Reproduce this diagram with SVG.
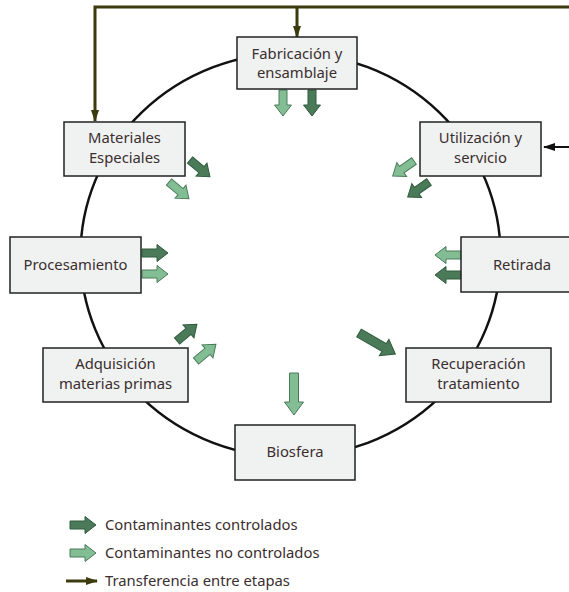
<svg xmlns="http://www.w3.org/2000/svg" width="569" height="592" viewBox="0 0 569 592">
<style>
.box{fill:#f0f2f2;stroke:#222;stroke-width:1.5}
.t{font-family:"Noto Sans","DejaVu Sans",sans-serif;font-size:14.8px;fill:#3a2e2e;text-anchor:middle}
.lg{font-family:"Noto Sans","DejaVu Sans",sans-serif;font-size:14.8px;fill:#3a2e2e}
.dk{fill:#4a7a58;stroke:#2f5a3c;stroke-width:1}
.lt{fill:#82bd93;stroke:#4a7a58;stroke-width:1}
.tr{fill:none;stroke:#3b3b0e;stroke-width:3}
</style>
<defs>
<path id="a26" d="M0,-4 H15 V-8.5 L26,0 L15,8.5 V4 H0 Z"/>
<path id="a42" d="M0,-4.5 H29 V-9.5 L42,0 L29,9.5 V4.5 H0 Z"/>
<marker id="h" viewBox="0 0 12 8" refX="11" refY="4" markerWidth="12" markerHeight="8" markerUnits="userSpaceOnUse" orient="auto">
<path d="M0,0 L12,4 L0,8 Z" fill="#3b3b0e"/>
</marker>
<marker id="hb" viewBox="0 0 12 8" refX="11" refY="4" markerWidth="12" markerHeight="8" markerUnits="userSpaceOnUse" orient="auto">
<path d="M0,0 L12,4 L0,8 Z" fill="#111"/>
</marker>
</defs>
<ellipse cx="290.5" cy="255" rx="210" ry="202" fill="none" stroke="#111" stroke-width="2.5"/>
<g id="connectors">
<path class="tr" d="M569,7 H95 V121" marker-end="url(#h)"/>
<path class="tr" d="M297,7 V37" marker-end="url(#h)"/>
<path d="M569,147 H544" stroke="#111" stroke-width="2" fill="none" marker-end="url(#hb)"/>
<use href="#a26" class="lt" transform="translate(283,90) rotate(90)"/>
<use href="#a26" class="dk" transform="translate(312,90) rotate(90)"/>
<use href="#a26" class="dk" transform="translate(190,160) rotate(40)"/>
<use href="#a26" class="lt" transform="translate(169,182) rotate(40)"/>
<use href="#a26" class="lt" transform="translate(414,161) rotate(145)"/>
<use href="#a26" class="dk" transform="translate(429,182) rotate(145)"/>
<use href="#a26" class="dk" transform="translate(142,253)"/>
<use href="#a26" class="lt" transform="translate(142,274)"/>
<use href="#a26" class="lt" transform="translate(461,255) rotate(180)"/>
<use href="#a26" class="dk" transform="translate(461,275) rotate(180)"/>
<use href="#a26" class="dk" transform="translate(177,341) rotate(-40)"/>
<use href="#a26" class="lt" transform="translate(196,361) rotate(-40)"/>
<use href="#a42" class="dk" transform="translate(359,333) rotate(30)"/>
<use href="#a42" class="lt" transform="translate(294,373) rotate(90)"/>
</g>
<g id="fabricacion"><rect class="box" x="237" y="37" width="120" height="52"/><text class="t" x="297" y="59">Fabricación y</text><text class="t" x="297" y="78">ensamblaje</text></g>
<g id="materiales"><rect class="box" x="64" y="122" width="121" height="54"/><text class="t" x="124.5" y="143">Materiales</text><text class="t" x="124.5" y="163">Especiales</text></g>
<g id="utilizacion"><rect class="box" x="420" y="122" width="121" height="54"/><text class="t" x="480.5" y="143">Utilización y</text><text class="t" x="480.5" y="163">servicio</text></g>
<g id="procesamiento"><rect class="box" x="10" y="237" width="131" height="56"/><text class="t" x="75.5" y="270">Procesamiento</text></g>
<g id="retirada"><rect class="box" x="461" y="237" width="120" height="55"/><text class="t" x="522" y="270">Retirada</text></g>
<g id="adquisicion"><rect class="box" x="43" y="348" width="145" height="54"/><text class="t" x="115.5" y="369">Adquisición</text><text class="t" x="115.5" y="389">materias primas</text></g>
<g id="recuperacion"><rect class="box" x="406" y="348" width="145" height="54"/><text class="t" x="478.5" y="369">Recuperación</text><text class="t" x="478.5" y="389">tratamiento</text></g>
<g id="biosfera"><rect class="box" x="235" y="425" width="120" height="55"/><text class="t" x="295" y="457">Biosfera</text></g>
<g id="legend">
<use href="#a26" class="dk" transform="translate(70,525)"/>
<text class="lg" x="105" y="530">Contaminantes controlados</text>
<use href="#a26" class="lt" transform="translate(70,553)"/>
<text class="lg" x="105" y="558">Contaminantes no controlados</text>
<path class="tr" d="M66,581 H97" marker-end="url(#h)"/>
<text class="lg" x="105" y="586">Transferencia entre etapas</text>
</g>
</svg>
